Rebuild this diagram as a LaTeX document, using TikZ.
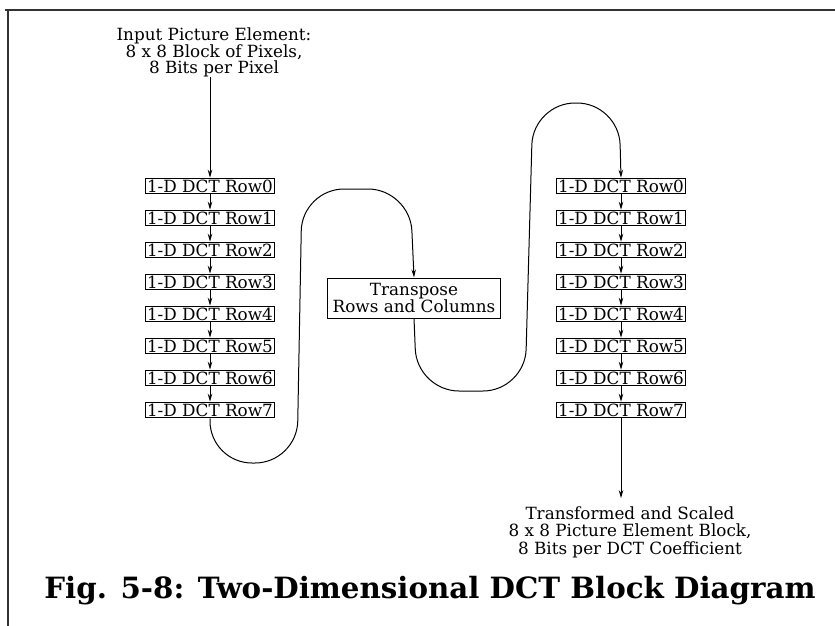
\documentclass[tikz,border=0pt]{standalone}
\usepackage{fontspec}
\setmainfont{DejaVu Serif}
\usetikzlibrary{arrows.meta}
\definecolor{frameGray}{HTML}{333333}

\begin{document}
\begin{tikzpicture}[x=1pt,y=-1pt,
  rowbox/.style={draw,line width=1pt,inner xsep=1.5pt,inner ysep=1.5pt,
    text height=12.3pt,text depth=0.3pt,font=\fontsize{16.8}{16}\selectfont},
  flow/.style={line width=1pt,-{Stealth[length=8pt,width=4.5pt]}},
  lbl/.style={align=center,inner sep=0pt}]
\useasboundingbox (0,0) rectangle (835,626);
% frame
\draw[frameGray,line width=2pt] (5,10)--(835,10);
\draw[frameGray,line width=1.2pt] (8,10)--(8,626);
% input
\node[lbl,font=\fontsize{16.8}{15.5}\selectfont] (inp) at (214,52)
  {Input Picture Element:\\8 x 8 Block of Pixels,\\8 Bits per Pixel};
% two columns of 1-D DCT rows
\foreach \i in {0,...,7} {
  \node[rowbox] (l\i) at (210,{186+32*\i}) {1-D DCT Row\i};
  \node[rowbox] (r\i) at (621,{186+32*\i}) {1-D DCT Row\i};
}
\foreach \i [remember=\i as \p (initially 0)] in {1,...,7} {
  \draw[flow] (l\p)--(l\i);
  \draw[flow] (r\p)--(r\i);
}
\draw[flow] (inp.south -| l0.north)--(l0.north);
% transpose
\node[draw,line width=1pt,minimum width=173pt,minimum height=40pt,align=center,
  font=\fontsize{16.8}{16}\selectfont] (tr) at (414,298) {Transpose\\Rows and Columns};
\draw[flow,rounded corners=42pt] (l7.south)--(210,463)--(297,463)--(302,189)--(410,189)--(tr.north);
\draw[flow,rounded corners=42pt] (tr.south)--(417,391)--(525,391)--(533,103)--(619,103)--(r0.north);
% output
\node[lbl,font=\fontsize{16.8}{17.5}\selectfont] (outp) at (630,532)
  {Transformed and Scaled\\8 x 8 Picture Element Block,\\8 Bits per DCT Coefficient};
\draw[flow,shorten >=8pt] (r7.south)--(r7.south |- outp.north);
% caption
\node[font=\bfseries\fontsize{29.3}{32}\selectfont,anchor=base] (title) at (430,598)
  {Fig. 5-8: Two-Dimensional DCT Block Diagram};
\end{tikzpicture}
\end{document}
